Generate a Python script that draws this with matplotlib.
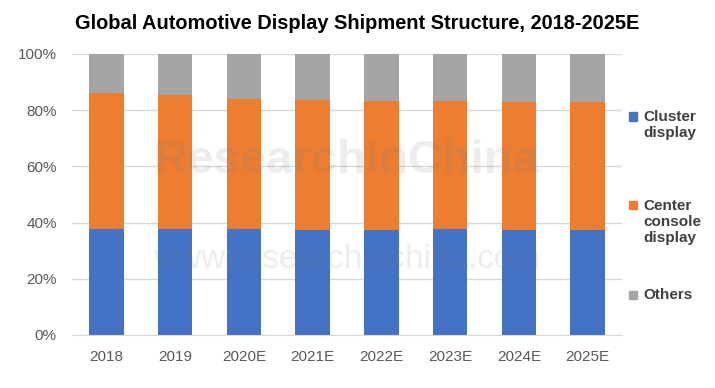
import numpy as np
import matplotlib.pyplot as plt
import matplotlib.patches as mpatches

years = ['2018', '2019', '2020E', '2021E', '2022E', '2023E', '2024E', '2025E']
cluster = [37.7, 37.7, 37.6, 37.4, 37.5, 37.8, 37.5, 37.5]
center_top = [86.1, 85.4, 84.0, 83.6, 83.3, 83.3, 83.0, 83.0]
center = [t - c for t, c in zip(center_top, cluster)]
others = [100 - t for t in center_top]

labels = ['Cluster\ndisplay', 'Center\nconsole\ndisplay', 'Others']
colors = ['#4472C4', '#ED7D31', '#A5A5A5']

plt.rcParams['font.family'] = ['Liberation Sans', 'DejaVu Sans']

fig = plt.figure(figsize=(7.15, 3.88), dpi=100)
ax = fig.add_axes([0.1007, 0.1366, 0.7693, 0.7244])

x = np.arange(len(years))
bottom = np.zeros(len(years))
for vals, col in zip([cluster, center, others], colors):
    ax.bar(x, vals, width=0.5, bottom=bottom, color=col, zorder=2)
    bottom += np.array(vals)

# watermark
ax.text(0.5, 0.62, 'ResearchInChina', transform=ax.transAxes, ha='center', va='center',
        fontsize=34, fontweight='bold', color='#808080', alpha=0.14, zorder=3)
ax.text(0.5, 0.27, 'www.researchinchina.com', transform=ax.transAxes, ha='center', va='center',
        fontsize=24, color='#808080', alpha=0.14, zorder=3)

ax.set_xlim(-0.5, len(years) - 0.5)
ax.set_ylim(0, 100)
ax.set_yticks(np.arange(0, 101, 20))
ax.set_yticklabels([f'{v}%' for v in range(0, 101, 20)])
ax.set_xticks(x)
ax.set_xticklabels(years)
ax.tick_params(axis='both', length=0, labelsize=11, colors='#595959')
ax.tick_params(axis='y', pad=11)
ax.tick_params(axis='x', pad=11)
ax.yaxis.grid(True, color='#D9D9D9', linewidth=1, zorder=0)
for s in ax.spines.values():
    s.set_visible(False)
ax.spines['bottom'].set_visible(True)
ax.spines['bottom'].set_color('#D9D9D9')

fig.text(0.5, 0.94, 'Global Automotive Display Shipment Structure, 2018-2025E',
         ha='center', va='center', fontsize=14.4, fontweight='bold', color='black')

# legend, placed by hand
leg_y = [125, 222, 295]
for lab, col, yy in zip(labels, colors, leg_y):
    n = lab.count('\n') + 1
    top = yy - (n - 1) * 17 / 2
    fig.patches.append(mpatches.Rectangle((629 / 715, 1 - (top + 4) / 388), 8 / 715, 8 / 388,
                                          transform=fig.transFigure, color=col))
    fig.text(643 / 715, 1 - yy / 388, lab, ha='left', va='center', fontsize=11,
             fontweight='bold', color='#404040', linespacing=1.15)

fig.savefig('out.png', dpi=100)
